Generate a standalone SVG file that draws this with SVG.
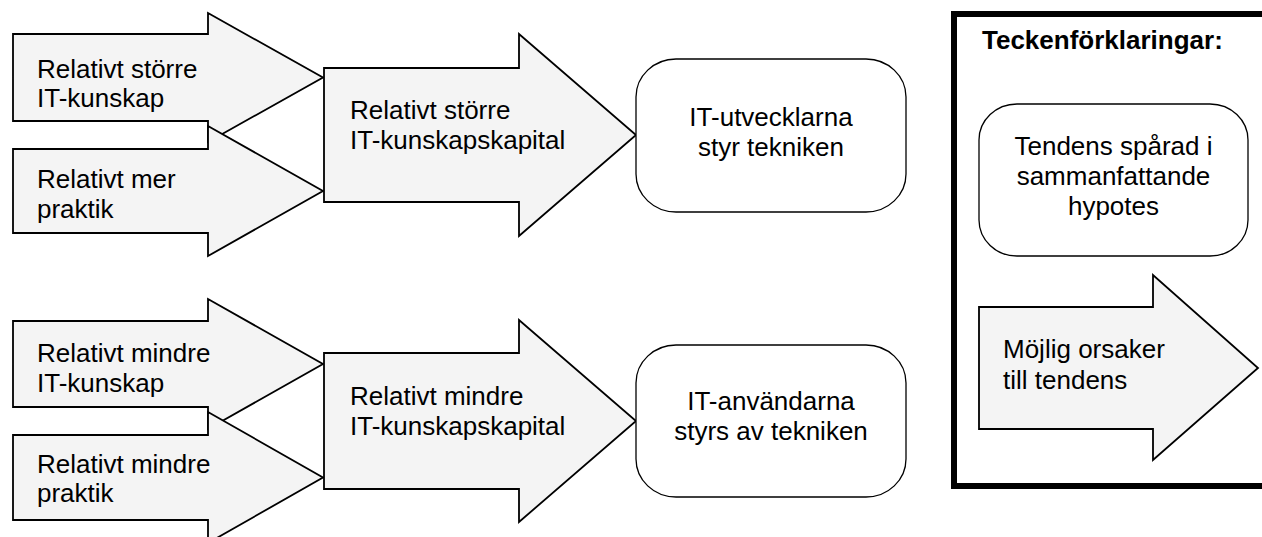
<svg xmlns="http://www.w3.org/2000/svg" width="1262" height="537" viewBox="0 0 1262 537">
<style>
.arr{fill:#f4f4f4;stroke:#000;stroke-width:1.8;stroke-linejoin:miter}
.box{fill:#fff;stroke:#000;stroke-width:1.3}
.t{font-family:"Liberation Sans",Arial,sans-serif;font-size:26px;fill:#000}
.c{text-anchor:middle}
.b{font-weight:bold}
</style>
<rect width="1262" height="537" fill="#fff"/>
<g id="connectors"/>
<g id="n-storre-itkunskap">
<path class="arr" d="M13,34 H208 V13 L323,77.5 L208,142 V121 H13 Z"/>
<text class="t"><tspan x="37" y="78">Relativt större</tspan><tspan x="37" y="107">IT-kunskap</tspan></text>
</g>
<g id="n-mer-praktik">
<path class="arr" d="M13,149 H208 V126 L323,191 L208,256 V233 H13 Z"/>
<text class="t"><tspan x="37" y="188">Relativt mer</tspan><tspan x="37" y="218">praktik</tspan></text>
</g>
<g id="n-storre-kapital">
<path class="arr" d="M324,68 H519 V34 L636,135 L519,236 V202 H324 Z"/>
<text class="t"><tspan x="350" y="119">Relativt större</tspan><tspan x="350" y="149">IT-kunskapskapital</tspan></text>
</g>
<g id="n-utvecklarna">
<rect class="box" x="636" y="59" width="270" height="153" rx="40" ry="38"/>
<text class="t c"><tspan x="771" y="126">IT-utvecklarna</tspan><tspan x="771" y="156">styr tekniken</tspan></text>
</g>
<g id="n-mindre-itkunskap">
<path class="arr" d="M13,321 H208 V299 L323,364 L208,429 V407 H13 Z"/>
<text class="t"><tspan x="37" y="362">Relativt mindre</tspan><tspan x="37" y="392">IT-kunskap</tspan></text>
</g>
<g id="n-mindre-praktik">
<path class="arr" d="M13,435 H208 V412 L323,477.5 L208,543 V520 H13 Z"/>
<text class="t"><tspan x="37" y="473">Relativt mindre</tspan><tspan x="37" y="502">praktik</tspan></text>
</g>
<g id="n-mindre-kapital">
<path class="arr" d="M324,353 H519 V320 L636,421 L519,522 V489 H324 Z"/>
<text class="t"><tspan x="350" y="405">Relativt mindre</tspan><tspan x="350" y="435">IT-kunskapskapital</tspan></text>
</g>
<g id="n-anvandarna">
<rect class="box" x="636" y="345" width="270" height="152" rx="40" ry="38"/>
<text class="t c"><tspan x="771" y="410">IT-användarna</tspan><tspan x="771" y="440">styrs av tekniken</tspan></text>
</g>
<g id="legend">
<rect x="954" y="14" width="320" height="472" fill="#fff" stroke="#000" stroke-width="6"/>
<text class="t b" x="982" y="49">Teckenförklaringar:</text>
<g id="legend-tendens">
<rect class="box" x="979" y="104" width="269" height="152" rx="38" ry="36"/>
<text class="t c"><tspan x="1113.5" y="155">Tendens spårad i</tspan><tspan x="1113.5" y="185">sammanfattande</tspan><tspan x="1113.5" y="215">hypotes</tspan></text>
</g>
<g id="legend-orsak">
<path class="arr" d="M979,307 H1153 V275 L1258,368 L1153,460 V429 H979 Z"/>
<text class="t"><tspan x="1003" y="358">Möjlig orsaker</tspan><tspan x="1003" y="389">till tendens</tspan></text>
</g>
</g>
</svg>
